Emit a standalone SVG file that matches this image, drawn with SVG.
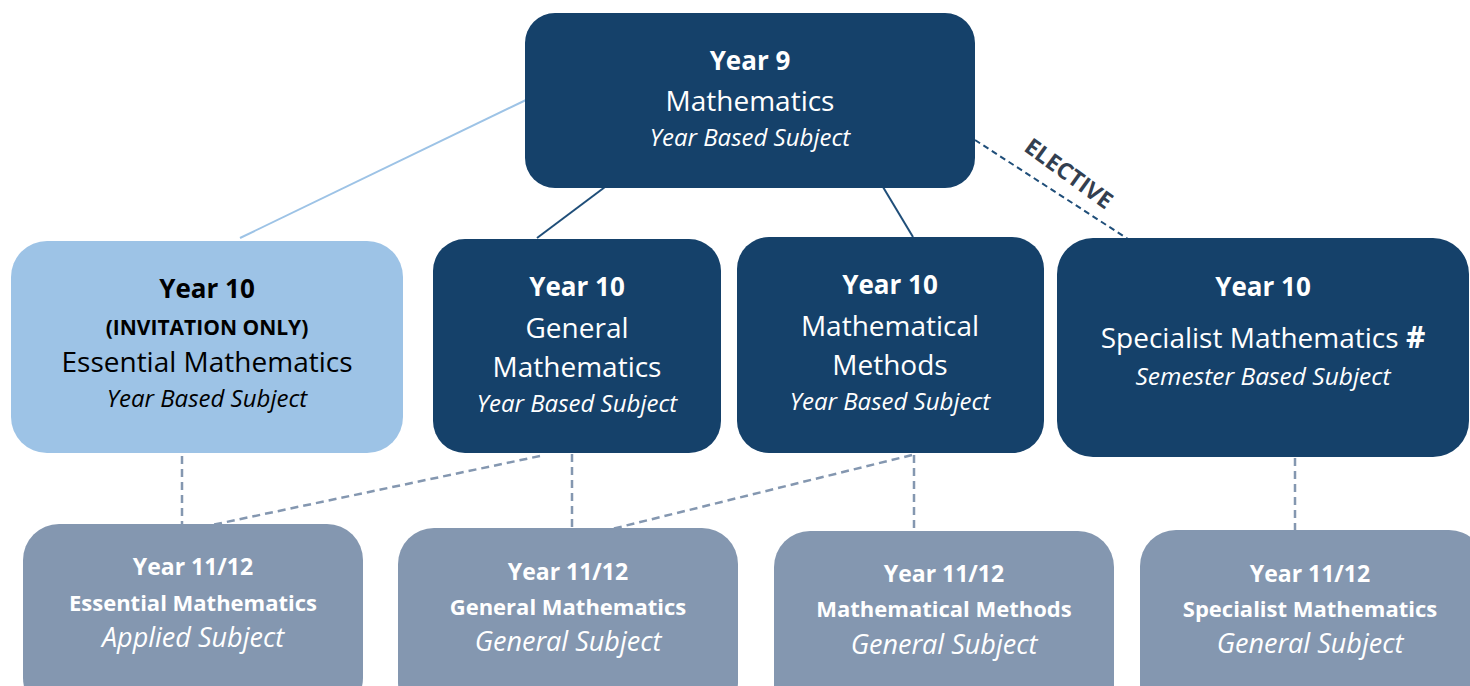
<svg xmlns="http://www.w3.org/2000/svg" width="1470" height="686" viewBox="0 0 1470 686">
<style>
text{font-family:"Open Sans","Noto Sans","Liberation Sans",sans-serif;text-anchor:middle}
.w{fill:#ffffff}.k{fill:#000000}
.b{font-weight:bold}.i{font-style:italic}
.dark{fill:#15416A}.light{fill:#9DC3E6}.grey{fill:#8497B0}
.c1{stroke:#1F4E79;stroke-width:2;fill:none}
.c2{stroke:#9DC3E6;stroke-width:2;fill:none}
.c3{stroke:#1F4E79;stroke-width:2;stroke-dasharray:6 4;fill:none}
.c4{stroke:#8497B0;stroke-width:2.5;stroke-dasharray:8 5;fill:none}
</style>
<rect width="1470" height="686" fill="#ffffff"/>
<g id="connectors">
<line class="c2" x1="526" y1="100" x2="240" y2="238"/>
<line class="c1" x1="605" y1="187" x2="537" y2="238"/>
<line class="c1" x1="883" y1="187" x2="913" y2="237"/>
<line class="c3" x1="975" y1="140" x2="1128" y2="239"/>
<text x="1064" y="180" transform="rotate(36 1064 180)" font-size="23" class="b" fill="#333F50">ELECTIVE</text>
<line class="c4" x1="182" y1="456" x2="182" y2="524"/>
<line class="c4" x1="540" y1="456" x2="212" y2="525"/>
<line class="c4" x1="572" y1="454" x2="572" y2="528"/>
<line class="c4" x1="912" y1="455" x2="612" y2="529"/>
<line class="c4" x1="914" y1="455" x2="914" y2="531"/>
<line class="c4" x1="1295" y1="458" x2="1295" y2="530"/>
</g>
<g id="y9">
<rect class="dark" x="525" y="13" width="450" height="175" rx="30"/>
<text x="750" y="70" font-size="26" class="w b">Year 9</text>
<text x="750" y="111" font-size="28" class="w">Mathematics</text>
<text x="750" y="146" font-size="24" class="w i">Year Based Subject</text>
</g>
<g id="y10-essential">
<rect class="light" x="11" y="241" width="392" height="212" rx="36"/>
<text x="207" y="298" font-size="26" class="k b">Year 10</text>
<text x="207" y="335" font-size="21" class="k b">(INVITATION ONLY)</text>
<text x="207" y="372" font-size="28" class="k">Essential Mathematics</text>
<text x="207" y="407" font-size="24" class="k i">Year Based Subject</text>
</g>
<g id="y10-general">
<rect class="dark" x="433" y="239" width="288" height="214" rx="32"/>
<text x="577" y="296" font-size="26" class="w b">Year 10</text>
<text x="577" y="338" font-size="28" class="w">General</text>
<text x="577" y="377" font-size="28" class="w">Mathematics</text>
<text x="577" y="412" font-size="24" class="w i">Year Based Subject</text>
</g>
<g id="y10-methods">
<rect class="dark" x="737" y="237" width="307" height="216" rx="32"/>
<text x="890" y="294" font-size="26" class="w b">Year 10</text>
<text x="890" y="336" font-size="28" class="w">Mathematical</text>
<text x="890" y="375" font-size="28" class="w">Methods</text>
<text x="890" y="410" font-size="24" class="w i">Year Based Subject</text>
</g>
<g id="y10-specialist">
<rect class="dark" x="1057" y="238" width="412" height="219" rx="36"/>
<text x="1263" y="296" font-size="26" class="w b">Year 10</text>
<text x="1263" y="348" font-size="28" class="w">Specialist Mathematics <tspan class="b" font-size="30">#</tspan></text>
<text x="1263" y="385" font-size="24.5" class="w i">Semester Based Subject</text>
</g>
<g id="y1112-essential">
<rect class="grey" x="23" y="524" width="340" height="190" rx="36"/>
<text x="193" y="575" font-size="23" class="w b">Year 11/12</text>
<text x="193" y="611" font-size="22" class="w b">Essential Mathematics</text>
<text x="193" y="647" font-size="27" class="w i">Applied Subject</text>
</g>
<g id="y1112-general">
<rect class="grey" x="398" y="528" width="340" height="190" rx="36"/>
<text x="568" y="580" font-size="23" class="w b">Year 11/12</text>
<text x="568" y="615" font-size="22" class="w b">General Mathematics</text>
<text x="568" y="651" font-size="27" class="w i">General Subject</text>
</g>
<g id="y1112-methods">
<rect class="grey" x="774" y="531" width="340" height="190" rx="36"/>
<text x="944" y="582" font-size="23" class="w b">Year 11/12</text>
<text x="944" y="617" font-size="22" class="w b">Mathematical Methods</text>
<text x="944" y="654" font-size="27" class="w i">General Subject</text>
</g>
<g id="y1112-specialist">
<rect class="grey" x="1140" y="530" width="345" height="190" rx="36"/>
<text x="1310" y="582" font-size="23" class="w b">Year 11/12</text>
<text x="1310" y="617" font-size="22" class="w b">Specialist Mathematics</text>
<text x="1310" y="653" font-size="27" class="w i">General Subject</text>
</g>
</svg>
